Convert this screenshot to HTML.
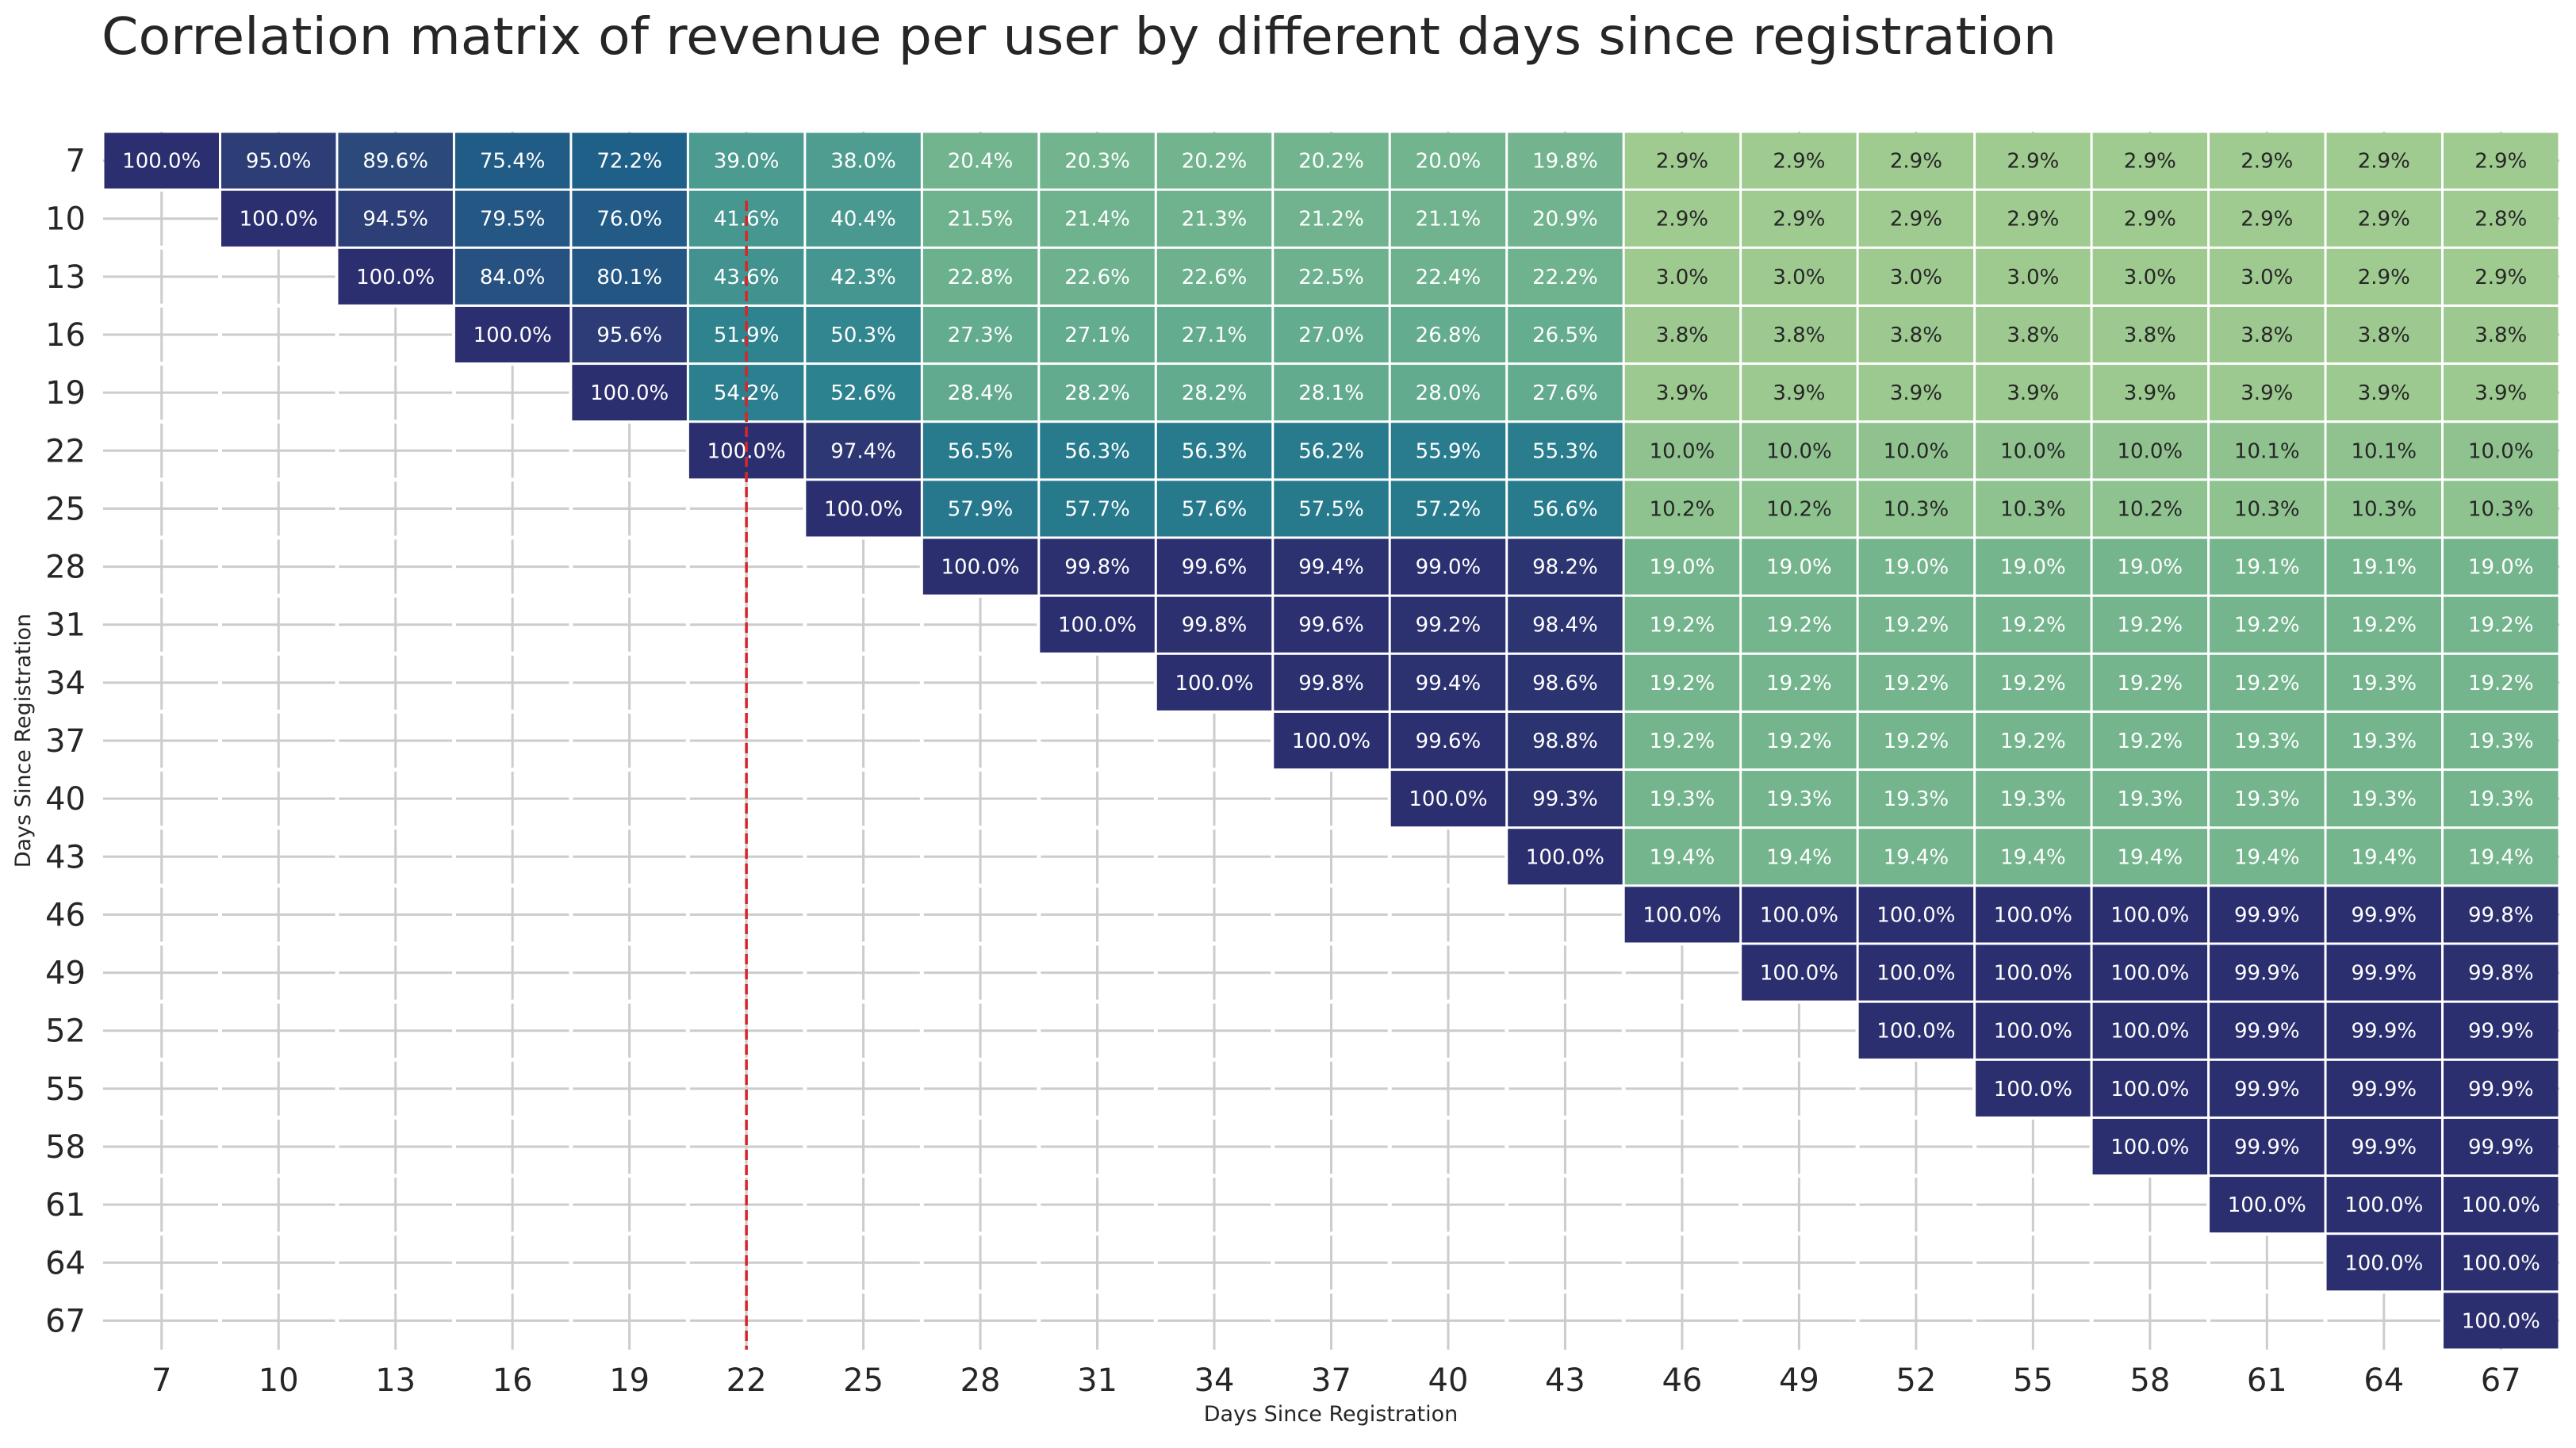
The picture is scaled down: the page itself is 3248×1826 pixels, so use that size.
<!DOCTYPE html>
<html><head><meta charset="utf-8"><style>
html,body{margin:0;padding:0;background:#fff}
svg text{font-family:"DejaVu Sans","Liberation Sans",sans-serif}
</style></head><body>
<svg id="chart" width="3248" height="1821" viewBox="0 0 3248 1821" xmlns="http://www.w3.org/2000/svg">
<text x="128" y="68" font-size="64" fill="#262626" textLength="2465" lengthAdjust="spacingAndGlyphs">Correlation matrix of revenue per user by different days since registration</text>
<g id="grid"></g>
<g id="cells"></g>
<g id="ticks"></g>
<text x="1678" y="1792" font-size="27" text-anchor="middle" fill="#262626">Days Since Registration</text>
<text x="0" y="0" font-size="27" text-anchor="middle" fill="#262626" transform="translate(38,934) rotate(-90)">Days Since Registration</text>
</svg>
<script>
const days = [7,10,13,16,19,22,25,28,31,34,37,40,43,46,49,52,55,58,61,64,67];
// each row lists values from the diagonal to the right (percent)
const row7  = [100,95.0,89.6,75.4,72.2,39.0,38.0,20.4,20.3,20.2,20.2,20.0,19.8,2.9,2.9,2.9,2.9,2.9,2.9,2.9,2.9];
const row10 = [100,94.5,79.5,76.0,41.6,40.4,21.5,21.4,21.3,21.2,21.1,20.9,2.9,2.9,2.9,2.9,2.9,2.9,2.9,2.8];
const row13 = [100,84.0,80.1,43.6,42.3,22.8,22.6,22.6,22.5,22.4,22.2,3.0,3.0,3.0,3.0,3.0,3.0,2.9,2.9];
const row16 = [100,95.6,51.9,50.3,27.3,27.1,27.1,27.0,26.8,26.5,3.8,3.8,3.8,3.8,3.8,3.8,3.8,3.8];
const row19 = [100,54.2,52.6,28.4,28.2,28.2,28.1,28.0,27.6,3.9,3.9,3.9,3.9,3.9,3.9,3.9,3.9];
const row22 = [100,97.4,56.5,56.3,56.3,56.2,55.9,55.3,10.0,10.0,10.0,10.0,10.0,10.1,10.1,10.0];
const row25 = [100,57.9,57.7,57.6,57.5,57.2,56.6,10.2,10.2,10.3,10.3,10.2,10.3,10.3,10.3];
const row28 = [100,99.8,99.6,99.4,99.0,98.2,19.0,19.0,19.0,19.0,19.0,19.1,19.1,19.0];
const row31 = [100,99.8,99.6,99.2,98.4,19.2,19.2,19.2,19.2,19.2,19.2,19.2,19.2];
const row34 = [100,99.8,99.4,98.6,19.2,19.2,19.2,19.2,19.2,19.2,19.3,19.2];
const row37 = [100,99.6,98.8,19.2,19.2,19.2,19.2,19.2,19.3,19.3,19.3];
const row40 = [100,99.3,19.3,19.3,19.3,19.3,19.3,19.3,19.3,19.3];
const row43 = [100,19.4,19.4,19.4,19.4,19.4,19.4,19.4,19.4];
const row46 = [100,100,100,100,100,99.9,99.9,99.8];
const row49 = [100,100,100,100,99.9,99.9,99.8];
const row52 = [100,100,100,99.9,99.9,99.9];
const row55 = [100,100,99.9,99.9,99.9];
const row58 = [100,99.9,99.9,99.9];
const row61 = [100,100,100];
const row64 = [100,100];
const row67 = [100];
const rows = [row7,row10,row13,row16,row19,row22,row25,row28,row31,row34,row37,row40,row43,row46,row49,row52,row55,row58,row61,row64,row67];
const markerDay = 22;

const NS = "http://www.w3.org/2000/svg";
const X0 = 130, X1 = 3227, Y0 = 166, Y1 = 1702;
const n = days.length;
const cw = (X1 - X0) / n, ch = (Y1 - Y0) / n;
const xPos = i => X0 + i * cw;
const yPos = i => Y0 + i * ch;

const stops = [[0,[165,205,144]],[0.1,[143,194,143]],[0.2,[114,180,142]],[0.28,[98,171,143]],[0.4,[74,154,144]],[0.52,[46,131,143]],[0.57,[39,122,140]],[0.73,[31,95,136]],[0.9,[43,74,123]],[0.95,[45,62,119]],[1,[44,47,111]]];
function color(v){
  for(let k=1;k<stops.length;k++){
    if(v<=stops[k][0]){
      const a=stops[k-1], b=stops[k], t=(v-a[0])/(b[0]-a[0]);
      const c=a[1].map((x,j)=>Math.round(x+(b[1][j]-x)*t));
      return `rgb(${c[0]},${c[1]},${c[2]})`;
    }
  }
  return "rgb(44,47,111)";
}
function mk(tag, attrs, parent){
  const el=document.createElementNS(NS,tag);
  for(const k in attrs) el.setAttribute(k,attrs[k]);
  parent.appendChild(el);
  return el;
}
const grid=document.getElementById('grid');
for(let i=0;i<n;i++){
  const gx=mk('line',{x1:xPos(i)+cw/2,x2:xPos(i)+cw/2,y1:Y0,y2:Y1,stroke:'#cccccc','stroke-width':3},grid);
  
  
  const gy=mk('line',{x1:X0,x2:X1,y1:yPos(i)+ch/2,y2:yPos(i)+ch/2,stroke:'#cccccc','stroke-width':3},grid);
  
  
}
for(let i=1;i<n;i++){
  mk('line',{x1:xPos(i),x2:xPos(i),y1:Y0,y2:Y1,stroke:'#fff','stroke-width':5},grid);
  mk('line',{x1:X0,x2:X1,y1:yPos(i),y2:yPos(i),stroke:'#fff','stroke-width':5},grid);
}
const cells=document.getElementById('cells');
rows.forEach((vals,r)=>{
  vals.forEach((v,k)=>{
    const c=r+k;
    const rect=mk('rect',{x:xPos(c)+1.5,y:yPos(r)+1.5,width:cw-3,height:ch-3,fill:color(v/100)},cells);
    
    
    const t=mk('text',{x:xPos(c)+cw/2,y:yPos(r)+ch/2+9,'font-size':26,'text-anchor':'middle',fill:v>=15?'#ffffff':'#262626'},cells);
    
    
    t.textContent=v.toFixed(1)+'%';
  });
});
const mi=days.indexOf(markerDay);
const red=mk('line',{x1:xPos(mi)+cw/2,x2:xPos(mi)+cw/2,y1:253,y2:Y1,stroke:'#d62728','stroke-width':3.5,'stroke-dasharray':'13,6'},cells);


const ticks=document.getElementById('ticks');
days.forEach((d,i)=>{
  const tx=mk('text',{x:xPos(i)+cw/2,y:1754,'font-size':40,'text-anchor':'middle',fill:'#262626'},ticks);
  
  
  tx.textContent=d;
  const ty=mk('text',{x:108,y:yPos(i)+ch/2+14,'font-size':40,'text-anchor':'end',fill:'#262626'},ticks);
  
  
  ty.textContent=d;
});
</script>
</body></html>
